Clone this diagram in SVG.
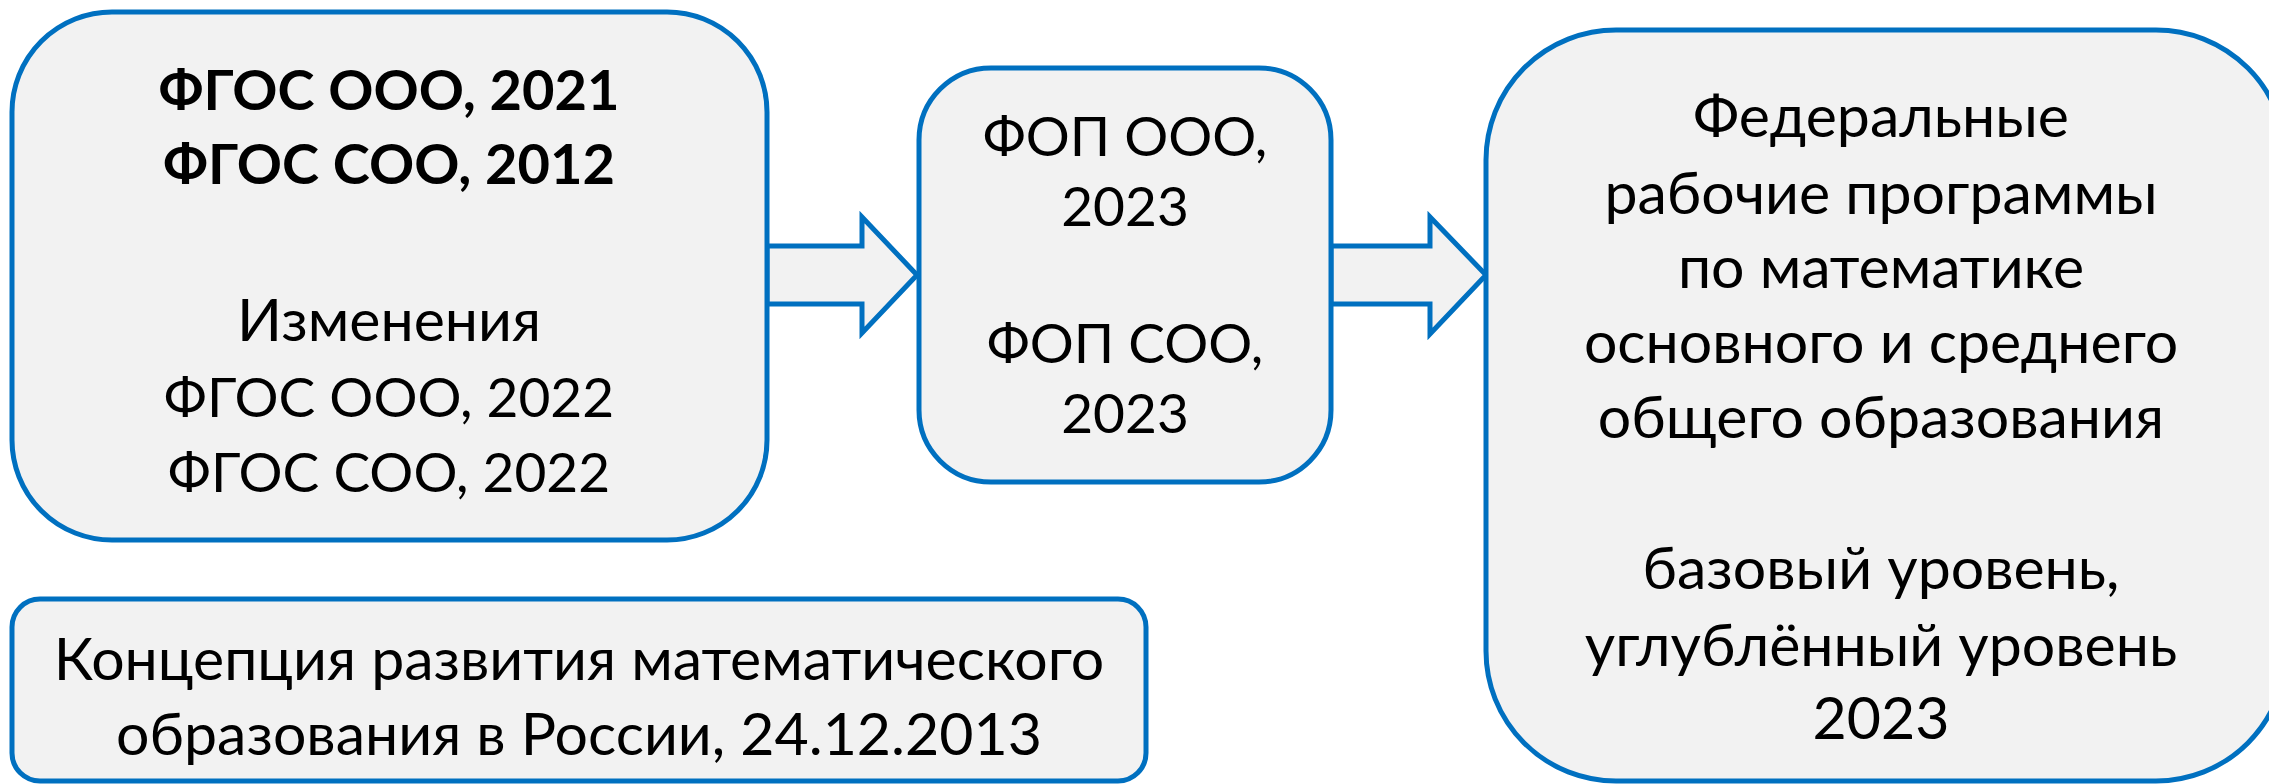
<svg xmlns="http://www.w3.org/2000/svg" width="2269" height="784" viewBox="0 0 2269 784">
<style>
.box{fill:#F2F2F2;stroke:#0070C0;stroke-width:5}
.arrow{fill:#F2F2F2;stroke:#0070C0;stroke-width:5;stroke-linejoin:miter}
text{font-family:Lato,"Liberation Sans",sans-serif;font-size:59px;fill:#000;text-anchor:middle}
.b{font-weight:bold;font-size:56px}
.c{font-size:55px}
</style>
<rect width="2269" height="784" fill="#fff"/>
<g id="connectors">
<path class="arrow" d="M767,246 H862 V217 L917,275 L862,333 V304 H767 Z"/>
<path class="arrow" d="M1331,246 H1430 V217 L1486,275 L1430,334 V304 H1331 Z"/>
</g>
<g id="node-fgos">
<rect class="box" x="12" y="12" width="755" height="528" rx="100"/>
<text class="b" x="389" y="110">ФГОС ООО, 2021</text>
<text class="b" x="389" y="184">ФГОС СОО, 2012</text>
<text x="389" y="341">Изменения</text>
<text class="c" x="389" y="417">ФГОС ООО, 2022</text>
<text class="c" x="389" y="492">ФГОС СОО, 2022</text>
</g>
<g id="node-fop">
<rect class="box" x="919" y="68" width="412" height="414" rx="72"/>
<text class="c" x="1125" y="156">ФОП ООО,</text>
<text class="c" x="1125" y="226">2023</text>
<text class="c" x="1125" y="363">ФОП СОО,</text>
<text class="c" x="1125" y="433">2023</text>
</g>
<g id="node-frp">
<rect class="box" x="1486" y="30" width="800" height="751" rx="130"/>
<text x="1881" y="137">Федеральные</text>
<text x="1881" y="214">рабочие программы</text>
<text x="1881" y="288">по математике</text>
<text x="1881" y="363">основного и среднего</text>
<text x="1881" y="438">общего образования</text>
<text x="1881" y="589">базовый уровень,</text>
<text x="1881" y="666">углублённый уровень</text>
<text x="1881" y="739">2023</text>
</g>
<g id="node-concept">
<rect class="box" x="12" y="599" width="1134" height="182" rx="28"/>
<text x="579" y="680">Концепция развития математического</text>
<text x="579" y="755">образования в России, 24.12.2013</text>
</g>
</svg>
